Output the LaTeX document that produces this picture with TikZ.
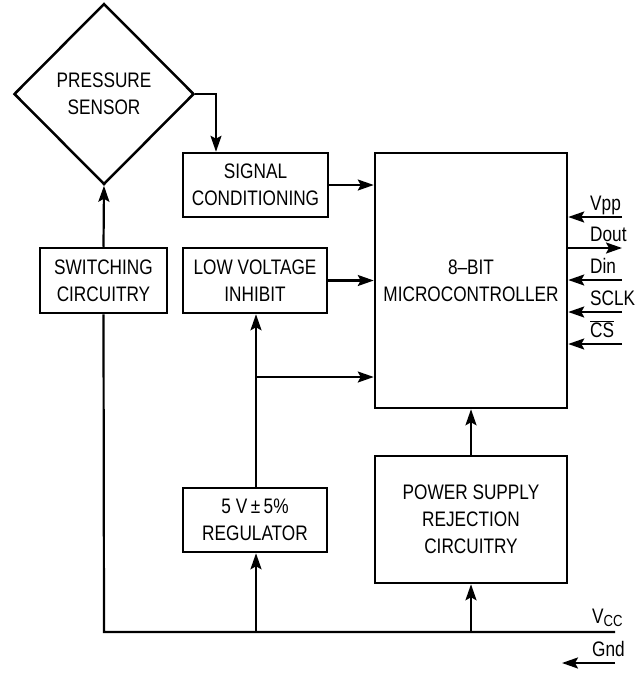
\documentclass[tikz,border=0pt]{standalone}
\usepackage{fontspec}
\setmainfont{Liberation Sans}[FakeStretch=0.82]
\usetikzlibrary{shapes.geometric,arrows.meta}
\begin{document}
\begin{tikzpicture}[x=1pt,y=-1pt,
  every node/.style={font=\fontsize{21}{27}\selectfont},
  blk/.style={draw, line width=2.5pt, align=center, inner sep=0pt},
  conn/.style={line width=2.2pt, -{Stealth[length=16pt,width=11pt,inset=3pt]}},
  wire/.style={line width=2.2pt},
  pinlbl/.style={anchor=base west, inner sep=0pt}]
\useasboundingbox (0,0) rectangle (644,673);
% blocks
\node[blk, shape=diamond, minimum width=180pt, minimum height=181pt] (ps) at (104,94) {PRESSURE\\SENSOR};
\node[blk, minimum width=145pt, minimum height=64pt] (sig) at (255.5,185) {SIGNAL\\CONDITIONING};
\node[blk, minimum width=127pt, minimum height=65pt] (sw) at (103.5,280.5) {SWITCHING\\CIRCUITRY};
\node[blk, minimum width=144pt, minimum height=65pt] (lvi) at (255,280.5) {LOW VOLTAGE\\INHIBIT};
\node[blk, minimum width=192pt, minimum height=255pt] (mcu) at (471,280.5) {8--BIT\\MICROCONTROLLER};
\node[blk, minimum width=144pt, minimum height=64pt] (reg) at (255,520) {5 V\,±\,5\%\\REGULATOR};
\node[blk, minimum width=192pt, minimum height=127pt] (psr) at (471,519.5) {POWER SUPPLY\\REJECTION\\CIRCUITRY};
% coordinates
\coordinate (c1) at (216,94);
\coordinate (b1) at (104,632);
\coordinate (bEnd) at (615,632);
\coordinate (j1) at (256,377);
\coordinate (pVpp) at (622,217);
\coordinate (pDout) at (622,248);
\coordinate (pDin) at (622,280);
\coordinate (pSclk) at (622,312);
\coordinate (pCs) at (622,344);
\coordinate (gA) at (615,663);
\coordinate (gB) at (562,663);
% connectors
\draw[conn] (ps.east) -- (c1) -- (c1 |- sig.north);
\draw[conn] (sig.east) -- (mcu.west |- sig.east);
\draw[conn] (lvi.east) -- (mcu.west |- lvi.east);
\draw[conn] (sw.north) -- (ps.south);
\draw[wire] (sw.south) -- (b1) -- (bEnd);
\draw[conn] (b1 -| j1) -- (j1 |- reg.south);
\draw[conn] (j1 |- reg.north) -- (j1 |- lvi.south);
\draw[conn] (j1) -- (mcu.west |- j1);
\draw[conn] (b1 -| psr.south) -- (psr.south);
\draw[conn] (psr.north) -- (mcu.south);
% pins
\draw[conn] (pVpp) -- (mcu.east |- pVpp);
\draw[conn] (mcu.east |- pDout) -- (pDout);
\draw[conn] (pDin) -- (mcu.east |- pDin);
\draw[conn] (pSclk) -- (mcu.east |- pSclk);
\draw[conn] (pCs) -- (mcu.east |- pCs);
\draw[conn] (gA) -- (gB);
% pin labels
\node[pinlbl] (lVpp) at (590,210) {Vpp};
\node[pinlbl] (lDout) at (590,241) {Dout};
\node[pinlbl] (lDin) at (590,273) {Din};
\node[pinlbl] (lSclk) at (590,305) {SCLK};
\node[pinlbl] (lCs) at (590,337) {$\overline{\mbox{CS}}$};
\node[pinlbl] (lVcc) at (592,623) {V\raisebox{-3pt}{\fontsize{16}{16}\selectfont CC}};
\node[pinlbl] (lGnd) at (592,656) {Gnd};
\end{tikzpicture}
\end{document}
